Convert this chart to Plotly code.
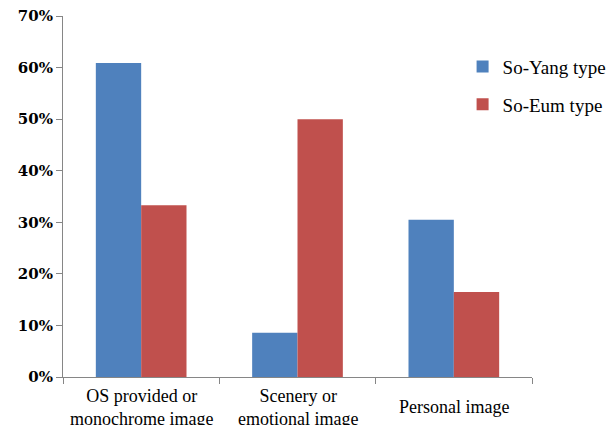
import plotly.graph_objects as go

categories = ["OS provided or<br>monochrome image", "Scenery or<br>emotional image", "Personal image"]
so_yang = [60.9, 8.6, 30.5]
so_eum = [33.3, 50.0, 16.5]
y_ticks = [0, 10, 20, 30, 40, 50, 60, 70]
y_tick_labels = [f"{v}%" for v in y_ticks]

fig = go.Figure()
fig.add_trace(go.Bar(x=list(range(3)), y=so_yang, name="So-Yang type",
                     marker=dict(color="#4F81BD", line=dict(width=0)), legendgroup="a"))
fig.add_trace(go.Bar(x=list(range(3)), y=so_eum, name="So-Eum type",
                     marker=dict(color="#C0504D", line=dict(width=0)), legendgroup="b"))

for i, c in enumerate(categories):
    fig.add_annotation(x=i, y=0, xref="x", yref="paper", text=c, showarrow=False,
                       yanchor="middle", yshift=-30,
                       font=dict(family="Liberation Serif, serif", size=18, color="black"))

fig.update_layout(
    width=608, height=425,
    margin=dict(l=63, r=76, t=16, b=48, autoexpand=False),
    plot_bgcolor="white", paper_bgcolor="white",
    barmode="group", bargap=0.42, bargroupgap=0,
    showlegend=True,
    legend=dict(x=0.852, y=0.912, xanchor="left", yanchor="top",
                font=dict(family="Liberation Serif, serif", size=19, color="black"),
                tracegroupgap=10, traceorder="grouped", bgcolor="rgba(0,0,0,0)"),
    xaxis=dict(range=[-0.5, 2.5], tickmode="array", tickvals=[-0.5, 0.5, 1.5, 2.5],
               ticktext=["", "", "", ""], ticks="outside", ticklen=6, tickcolor="#868686",
               showline=True, linecolor="#868686", linewidth=1, showgrid=False, zeroline=False),
    yaxis=dict(range=[0, 70], tickmode="array", tickvals=y_ticks, ticktext=y_tick_labels,
               ticks="outside", ticklen=6, tickcolor="#868686",
               showline=True, linecolor="#868686", linewidth=1, showgrid=False, zeroline=False,
               tickfont=dict(family="DejaVu Serif, serif", size=15, color="black", weight="bold")),
)
fig.write_html("out.html")
